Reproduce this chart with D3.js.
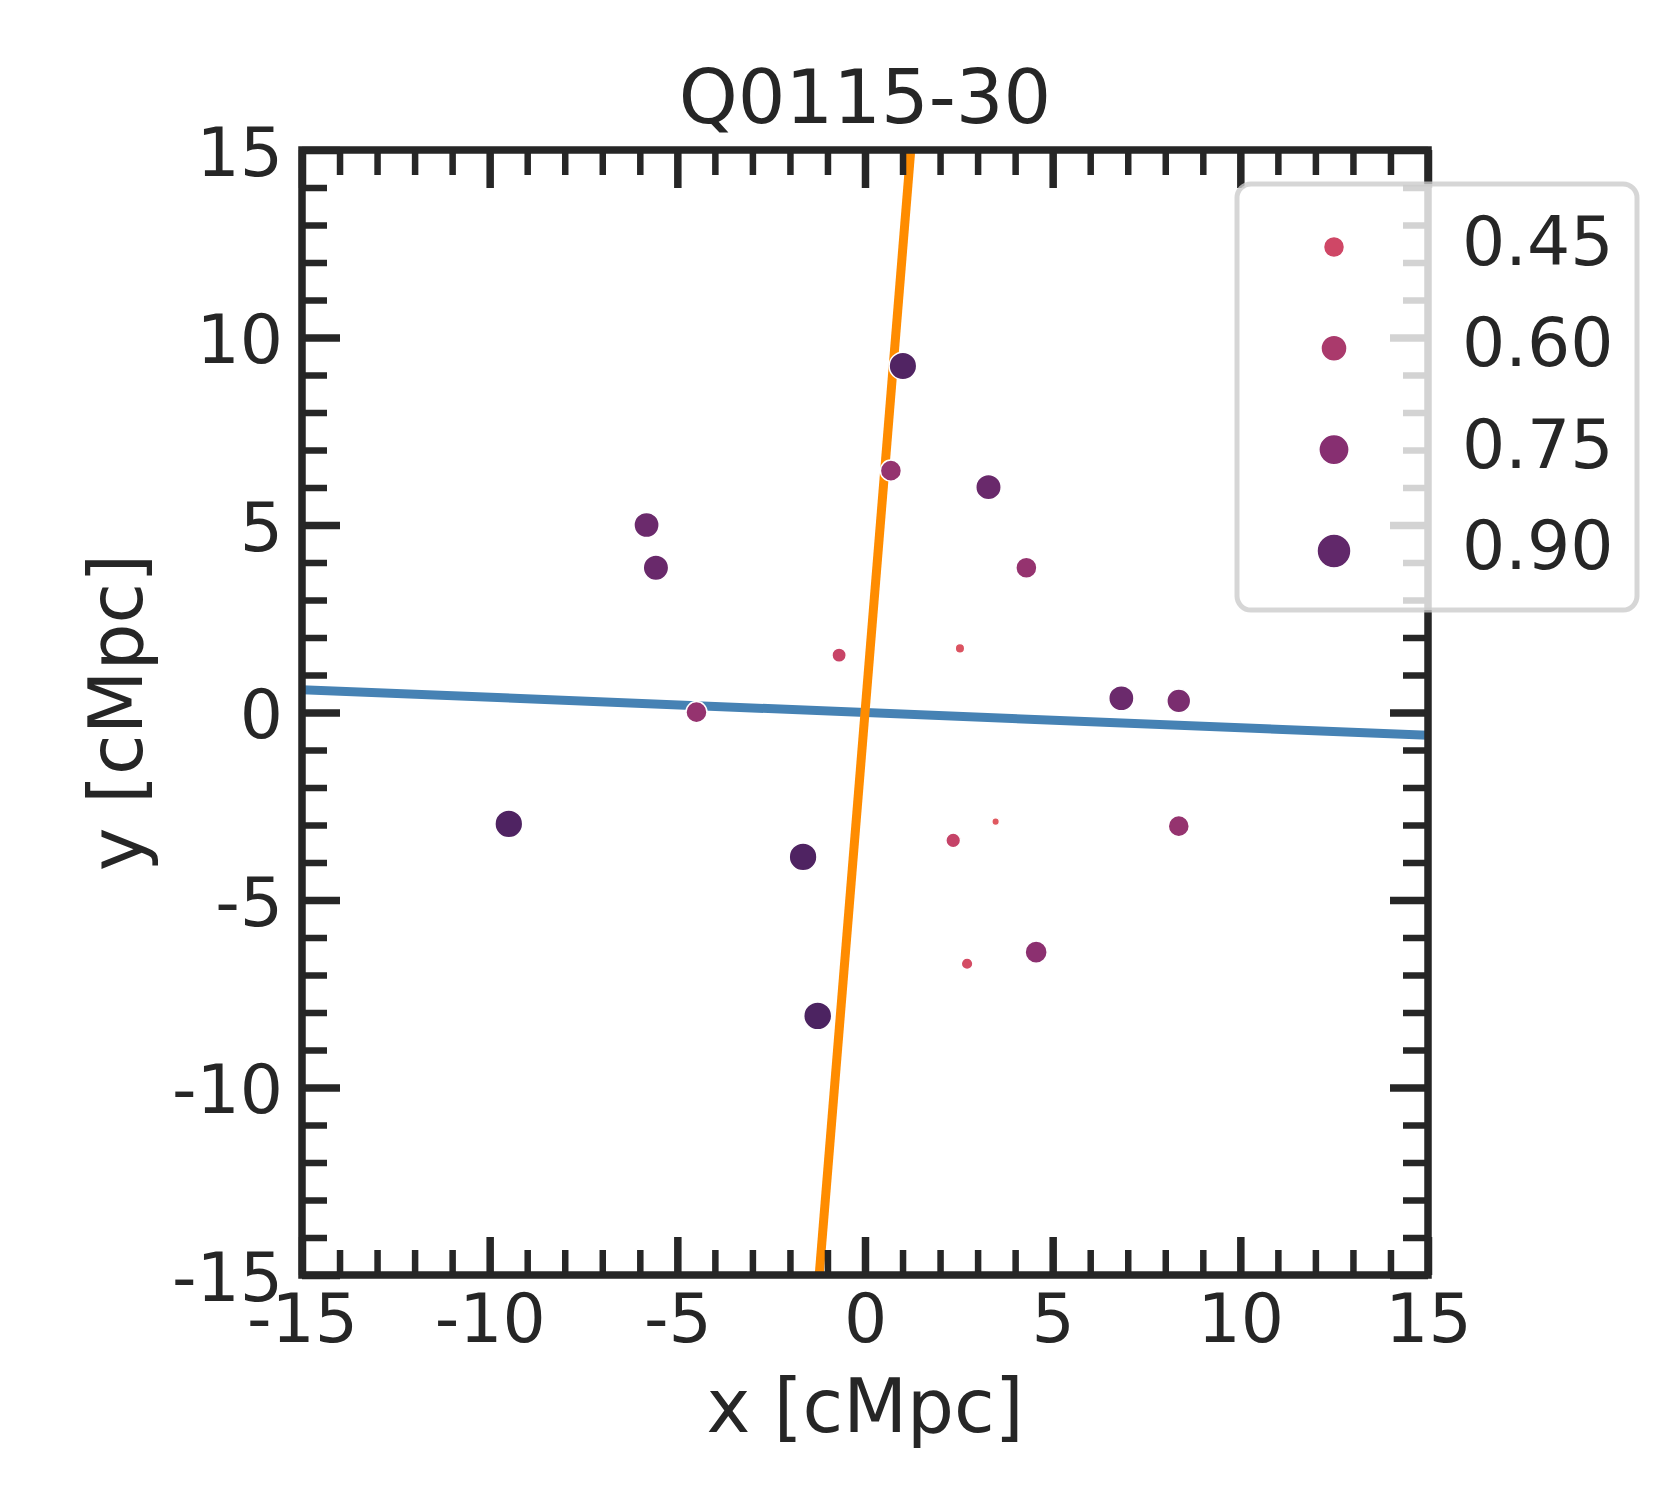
<!DOCTYPE html>
<html>
<head>
<meta charset="utf-8">
<script src="https://cdn.jsdelivr.net/npm/d3@7"></script>
<style>
  body { margin: 0; background: #fff; }
  text { font-family: "DejaVu Sans", sans-serif; fill: #262626; }
</style>
</head>
<body>
<div id="chart"></div>
<script>
// galaxy positions around the sightline (cMpc) and their probability
const xPos = [1.01, 0.69, 3.29, -5.82, -5.57, 4.30, -0.69, 2.53, 6.83, 8.36, -4.49, -9.49, -1.65, 2.35, 3.48, 8.36, 4.56, 2.72, -1.26];
const yPos = [9.24, 6.45, 6.01, 5.00, 3.86, 3.86, 1.53, 1.71, 0.38, 0.31, 0.01, -2.97, -3.85, -3.41, -2.91, -3.03, -6.39, -6.70, -8.09];
const prob = [0.97, 0.69, 0.87, 0.86, 0.87, 0.69, 0.48, 0.38, 0.86, 0.80, 0.69, 0.98, 0.98, 0.49, 0.35, 0.69, 0.73, 0.42, 0.99];

// the two directions through the centre
const blueLine = [[-15, 0.61], [15, -0.61]];
const orangeLine = [[-1.22, -15], [1.22, 15]];

const legendValues = [0.45, 0.60, 0.75, 0.90];
const legendLabels = ["0.45", "0.60", "0.75", "0.90"];
const majorTicks = [-15, -10, -5, 0, 5, 10, 15];
const minorTicks = d3.range(-15, 16).filter(v => v % 5 !== 0);

const width = 1680;
const height = 1500;
const plot = { left: 302, top: 150, width: 1126, height: 1125 };
const ink = "#262626";

const svg = d3.select("#chart")
    .append("svg")
    .attr("width", width)
    .attr("height", height);

const x = d3.scaleLinear().domain([-15, 15]).range([plot.left, plot.left + plot.width]);
const y = d3.scaleLinear().domain([-15, 15]).range([plot.top + plot.height, plot.top]);

// palette sampled from the legend
const color = d3.scaleLinear()
    .domain([0.35, 0.45, 0.60, 0.75, 0.90, 1.0])
    .range(["#e0585f", "#cf4766", "#aa3a6c", "#872f71", "#61286a", "#4a2260"])
    .interpolate(d3.interpolateLab)
    .clamp(true);
const radius = d3.scaleRadial().domain([0.3, 1.0]).range([0, 14.1]);
const legendRadius = d3.scaleRadial().domain([0.45, 0.90]).range([10.5, 17]);

svg.append("clipPath")
    .attr("id", "plot-clip")
    .append("rect")
    .attr("x", plot.left)
    .attr("y", plot.top)
    .attr("width", plot.width)
    .attr("height", plot.height);

// lines
const line = d3.line().x(d => x(d[0])).y(d => y(d[1]));
svg.append("path")
    .attr("d", line(blueLine))
    .attr("clip-path", "url(#plot-clip)")
    .attr("fill", "none")
    .attr("stroke", "#4682b4")
    .attr("stroke-width", 9);
svg.append("path")
    .attr("d", line(orangeLine))
    .attr("clip-path", "url(#plot-clip)")
    .attr("fill", "none")
    .attr("stroke", "#ff8c00")
    .attr("stroke-width", 9);

// points
svg.append("g")
    .selectAll("circle")
    .data(d3.range(xPos.length))
    .enter()
    .append("circle")
    .attr("cx", i => x(xPos[i]))
    .attr("cy", i => y(yPos[i]))
    .attr("r", i => radius(prob[i]))
    .attr("fill", i => color(prob[i]))
    .attr("stroke", "#fff")
    .attr("stroke-width", 1.5);

// ticks on all four sides, pointing inward
function ticks(axis, transform, values, size, labels, sw) {
    const g = svg.append("g")
        .attr("transform", transform)
        .call(axis.tickValues(values).tickSize(-size).tickSizeOuter(0)
            .tickPadding(19)
            .tickFormat(labels ? (d => String(d)) : ""));
    g.select(".domain").remove();
    g.selectAll(".tick line").attr("stroke", ink).attr("stroke-width", sw);
    g.selectAll(".tick text")
        .attr("fill", ink)
        .style("font-size", "68px")
        .style("font-family", "DejaVu Sans, sans-serif");
    return g;
}
const atBottom = `translate(0,${plot.top + plot.height})`;
const atTop = `translate(0,${plot.top})`;
const atLeft = `translate(${plot.left},0)`;
const atRight = `translate(${plot.left + plot.width},0)`;

ticks(d3.axisBottom(x), atBottom, minorTicks, 25, false, 6.5);
ticks(d3.axisBottom(x), atBottom, majorTicks, 38, true, 7.5);
ticks(d3.axisTop(x), atTop, minorTicks, 25, false, 6.5);
ticks(d3.axisTop(x), atTop, majorTicks, 38, false, 7.5);
ticks(d3.axisLeft(y), atLeft, minorTicks, 25, false, 6.5);
ticks(d3.axisLeft(y), atLeft, majorTicks, 38, true, 7.5)
    .selectAll(".tick text").attr("dy", "0.37em");
ticks(d3.axisRight(y), atRight, minorTicks, 25, false, 6.5);
ticks(d3.axisRight(y), atRight, majorTicks, 38, false, 7.5);

// spines
svg.append("rect")
    .attr("x", plot.left)
    .attr("y", plot.top)
    .attr("width", plot.width)
    .attr("height", plot.height)
    .attr("fill", "none")
    .attr("stroke", ink)
    .attr("stroke-width", 7.5);

// title and axis labels
svg.append("text")
    .attr("x", x(0))
    .attr("y", 123)
    .attr("text-anchor", "middle")
    .style("font-size", "75px")
    .text("Q0115-30");

svg.append("text")
    .attr("x", x(0))
    .attr("y", 1432)
    .attr("text-anchor", "middle")
    .style("font-size", "74px")
    .text("x [cMpc]");

svg.append("text")
    .attr("transform", `translate(142,${y(0)}) rotate(-90)`)
    .attr("text-anchor", "middle")
    .style("font-size", "74px")
    .text("y [cMpc]");

// legend
const legend = svg.append("g");
legend.append("rect")
    .attr("x", 1237)
    .attr("y", 184)
    .attr("width", 400)
    .attr("height", 426)
    .attr("rx", 14)
    .attr("fill", "#fff")
    .attr("fill-opacity", 0.8)
    .attr("stroke", "#ccc")
    .attr("stroke-opacity", 0.8)
    .attr("stroke-width", 5);

const rowStep = 101.3;
const entry = legend.selectAll("g.entry")
    .data(legendValues)
    .enter()
    .append("g")
    .attr("class", "entry")
    .attr("transform", (d, i) => `translate(0,${i * rowStep})`);

entry.append("circle")
    .attr("cx", 1334)
    .attr("cy", 247)
    .attr("r", d => legendRadius(d))
    .attr("fill", d => color(d))
    .attr("stroke", "#fff")
    .attr("stroke-width", 1.5);

entry.append("text")
    .attr("x", 1462)
    .attr("y", 265)
    .style("font-size", "68px")
    .text((d, i) => legendLabels[i]);
</script>
</body>
</html>
